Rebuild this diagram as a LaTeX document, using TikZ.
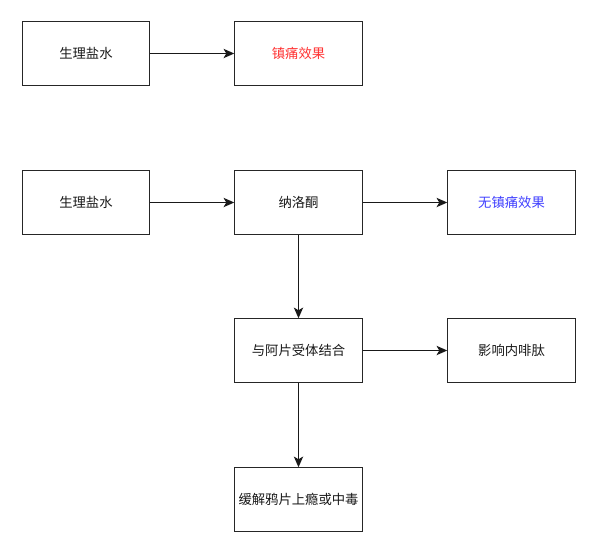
\documentclass[tikz,border=0pt]{standalone}
\usepackage{fontspec}
\setmainfont{Noto Sans CJK SC}
\usetikzlibrary{arrows.meta}
\definecolor{redtxt}{HTML}{FF3333}
\definecolor{bluetxt}{HTML}{3F3FFF}
\begin{document}
\begin{tikzpicture}[x=0.75pt,y=-0.75pt,
  box/.style={draw=black!85,line width=0.9pt,minimum width=95.5pt,minimum height=47.5pt,inner sep=0pt,font=\fontsize{10}{12}\selectfont,text=black!90},
  conn/.style={draw=black!90,line width=0.9pt,-{Stealth[length=8pt,width=7pt,inset=2pt]}}]
\useasboundingbox (0,0) rectangle (597,554);
\node[box] (a1) at (86,53.5) {生理盐水};
\node[box,text=redtxt] (a2) at (298.5,53.5) {镇痛效果};
\node[box] (b1) at (86,202.5) {生理盐水};
\node[box] (b2) at (298.5,202.5) {纳洛酮};
\node[box,text=bluetxt] (b3) at (511.5,202.5) {无镇痛效果};
\node[box] (c1) at (298.5,350.5) {与阿片受体结合};
\node[box] (c2) at (511.5,350.5) {影响内啡肽};
\node[box] (d1) at (298.5,499.5) {缓解鸦片上瘾或中毒};
\draw[conn] (a1) -- (a2);
\draw[conn] (b1) -- (b2);
\draw[conn] (b2) -- (b3);
\draw[conn] (b2) -- (c1);
\draw[conn] (c1) -- (c2);
\draw[conn] (c1) -- (d1);
\end{tikzpicture}
\end{document}
